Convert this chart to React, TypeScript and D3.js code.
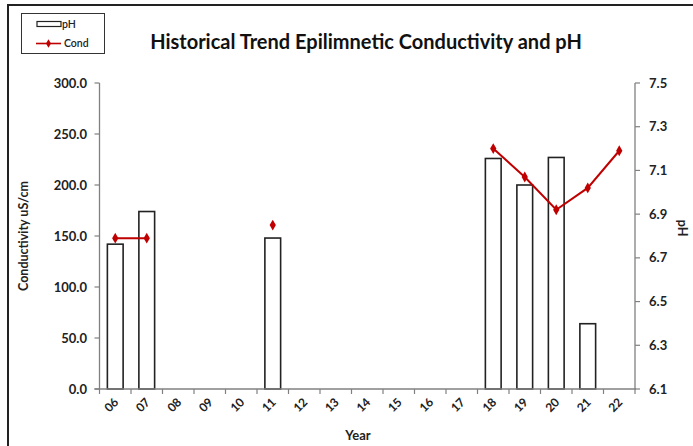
import React from "react";
import * as d3 from "d3";

const years = ["06","07","08","09","10","11","12","13","14","15","16","17","18","19","20","21","22"];
const phBars: (number | null)[] = [142,174,null,null,null,148,null,null,null,null,null,null,226,200,227,64,null];
const condLine: (number | null)[] = [6.79,6.79,null,null,null,6.85,null,null,null,null,null,null,7.20,7.07,6.92,7.02,7.19];
const leftTicks = [0,50,100,150,200,250,300];
const rightTicks = [6.1,6.3,6.5,6.7,6.9,7.1,7.3,7.5];

const W = 693, H = 446;
const plot = { left: 99.5, right: 635, top: 83, bottom: 389 };
const FONT = "Lato, 'Open Sans', sans-serif";
const RED = "#C00000";
const AXIS = "#808080";

export default function App() {
  const x = d3.scaleBand<string>().domain(years).range([plot.left, plot.right]).padding(0);
  const bw = x.bandwidth();
  const yL = d3.scaleLinear().domain([0, 300]).range([plot.bottom, plot.top]);
  const yR = d3.scaleLinear().domain([6.1, 7.5]).range([plot.bottom, plot.top]);
  const line = d3.line<number | null>()
    .defined((d) => d !== null)
    .x((_, i) => (x(years[i]) as number) + bw / 2)
    .y((d) => yR(d as number));
  const diamond = d3.symbol().type(d3.symbolDiamond).size(34)();

  return (
    <svg width={W} height={H} style={{ position: "absolute", left: 0, top: 0, background: "#fff" }} fontFamily={FONT}>
      <rect x={0} y={0} width={W} height={H} fill="#fff" />
      {/* outer frame */}
      <rect x={8} y={5} width={W + 20} height={H + 20} fill="none" stroke="#222" strokeWidth={2} />

      {/* legend */}
      <rect x={21.5} y={13.5} width={83} height={40} fill="#fff" stroke="#333" strokeWidth={1} />
      <rect x={37} y={21.5} width={24} height={5} fill="#fff" stroke="#222" strokeWidth={1.2} />
      <text x={62} y={27.5} fontSize={10.5} fontWeight={600} fill="#222">pH</text>
      <line x1={36} x2={61} y1={43.5} y2={43.5} stroke={RED} strokeWidth={1.6} />
      <path d={diamond as string} transform="translate(48.5,43.5) scale(0.8)" fill={RED} />
      <text x={64} y={47} fontSize={10.5} fontWeight={600} fill="#222">Cond</text>

      {/* title */}
      <text x={366} y={49} textAnchor="middle" fontSize={20} fontWeight={700} fill="#111">
        Historical Trend Epilimnetic Conductivity and pH
      </text>

      {/* bars */}
      {phBars.map((v, i) =>
        v === null ? null : (
          <rect key={i} x={(x(years[i]) as number) + bw * 0.25} y={yL(v)} width={bw * 0.5}
            height={yL(0) - yL(v)} fill="#fff" stroke="#222" strokeWidth={1.6} />
        )
      )}

      {/* axes */}
      <line x1={plot.left} x2={plot.left} y1={plot.top} y2={plot.bottom} stroke={AXIS} strokeWidth={1.3} />
      <line x1={plot.right} x2={plot.right} y1={plot.top} y2={plot.bottom} stroke={AXIS} strokeWidth={1.3} />
      <line x1={plot.left - 5} x2={plot.right + 1} y1={plot.bottom} y2={plot.bottom} stroke={AXIS} strokeWidth={1.3} />

      {leftTicks.map((t) => (
        <g key={"l" + t}>
          <line x1={plot.left - 5} x2={plot.left} y1={yL(t)} y2={yL(t)} stroke={AXIS} strokeWidth={1.2} />
          <text x={87} y={yL(t) + 4.5} textAnchor="end" fontSize={13} fontWeight={700} fill="#222">{t.toFixed(1)}</text>
        </g>
      ))}
      {rightTicks.map((t) => (
        <g key={"r" + t}>
          <line x1={plot.right} x2={plot.right + 5} y1={yR(t)} y2={yR(t)} stroke={AXIS} strokeWidth={1.2} />
          <text x={649} y={yR(t) + 4.5} textAnchor="start" fontSize={13} fontWeight={700} fill="#222">{t.toFixed(1)}</text>
        </g>
      ))}
      {years.map((yr, i) => {
        const bx = x(yr) as number;
        const cx = bx + bw / 2;
        return (
          <g key={"x" + yr}>
            <line x1={bx + bw} x2={bx + bw} y1={plot.bottom} y2={plot.bottom + 5} stroke={AXIS} strokeWidth={1.2} />
            {i === 0 ? <line x1={bx} x2={bx} y1={plot.bottom} y2={plot.bottom + 5} stroke={AXIS} strokeWidth={1.2} /> : null}
            <text transform={`translate(${cx + 4},${plot.bottom + 14}) rotate(-45)`} textAnchor="end" fontSize={12} fontWeight={700} fill="#222">{yr}</text>
          </g>
        );
      })}

      {/* axis titles */}
      <text transform={`translate(28,${(plot.top + plot.bottom) / 2}) rotate(-90)`} textAnchor="middle" fontSize={12.5} fontWeight={700} fill="#222">Conductivity uS/cm</text>
      <text transform={`translate(678,${(plot.top + plot.bottom) / 2 - 8}) rotate(90)`} textAnchor="middle" fontSize={12.5} fontWeight={700} fill="#222">pH</text>
      <text x={358} y={440} textAnchor="middle" fontSize={13} fontWeight={700} fill="#222">Year</text>

      {/* cond line */}
      <path d={line(condLine) as string} fill="none" stroke={RED} strokeWidth={2} />
      {condLine.map((v, i) =>
        v === null ? null : (
          <path key={"m" + i} d={diamond as string} fill={RED}
            transform={`translate(${(x(years[i]) as number) + bw / 2},${yR(v)})`} />
        )
      )}
    </svg>
  );
}
